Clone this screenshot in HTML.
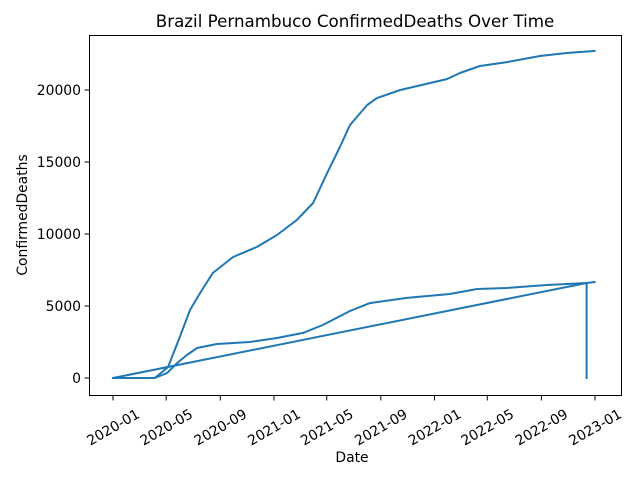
<!DOCTYPE html>
<html><head><meta charset="utf-8"><style>
body{margin:0;background:#fff;}
svg{font-family:"DejaVu Sans","Liberation Sans",sans-serif;}
</style></head><body>
<svg width="640" height="480" xmlns="http://www.w3.org/2000/svg">
<g id="plot"></g>
</svg>
<script>
const upperDates=["2020-01-01","2020-04-05","2020-05-05","2020-06-01","2020-06-24","2020-07-17","2020-08-15","2020-09-30","2020-11-23","2021-01-08","2021-02-22","2021-03-31","2021-05-02","2021-05-31","2021-06-23","2021-08-01","2021-08-23","2021-10-15","2022-01-29","2022-02-28","2022-04-14","2022-06-15","2022-08-29","2022-10-29","2022-12-31"];
const upperValues=[0,0,760,2850,4720,5900,7290,8400,9100,9930,10970,12150,14240,16040,17570,18960,19440,20000,20760,21180,21670,21940,22360,22570,22710];
const lowerDates=["2020-01-01","2020-04-05","2020-05-03","2020-05-26","2020-06-17","2020-07-10","2020-08-24","2020-11-07","2021-01-08","2021-03-08","2021-04-22","2021-06-23","2021-08-07","2021-10-30","2022-02-05","2022-04-08","2022-06-15","2022-09-14","2022-12-13","2022-12-31"];
const lowerValues=[0,0,350,1040,1600,2080,2360,2500,2780,3130,3680,4650,5200,5560,5830,6180,6250,6460,6600,6670];
const straightDates=["2020-01-01","2022-12-13","2022-12-13"];
const straightValues=[0,6600,0];
const xTickLabels=["2020-01","2020-05","2020-09","2021-01","2021-05","2021-09","2022-01","2022-05","2022-09","2023-01"];
const yTickValues=[0,5000,10000,15000,20000];

const NS="http://www.w3.org/2000/svg";
const g=document.getElementById('plot');
const X0=113, t0=Date.UTC(2020,0,1), PXD=482/1096;
function xs(d){const p=d.split('-').map(Number);const t=Date.UTC(p[0],p[1]-1,p[2]||1);return X0+(t-t0)/86400000*PXD;}
function ys(v){return 378-v*0.0144;}
function el(tag,attrs,txt){const e=document.createElementNS(NS,tag);for(const k in attrs)e.setAttribute(k,attrs[k]);if(txt!==undefined)e.textContent=txt;g.appendChild(e);return e;}

function line(ds,vs,name){
  const pts=ds.map((d,i)=>xs(d).toFixed(1)+','+ys(vs[i]).toFixed(1)).join(' ');
  const p=el('polyline',{points:pts,fill:'none',stroke:'#1f77b4','stroke-width':'2','stroke-linejoin':'round','stroke-linecap':'square'});
  
  
}
line(upperDates,upperValues,'series-line-upper');
line(lowerDates,lowerValues,'series-line-lower');
line(straightDates,straightValues,'series-line-connector');

const fr=el('rect',{x:89.5,y:35.5,width:532,height:360,fill:'none',stroke:'#000','stroke-width':'1'});



yTickValues.forEach(v=>{
  const y=ys(v);
  el('line',{x1:89.5,x2:84.5,y1:y,y2:y,stroke:'#000'});
  const t=el('text',{x:81,y:y+5,'text-anchor':'end','font-size':'13.9'},String(v));
  
  
});
xTickLabels.forEach(s=>{
  const x=xs(s+'-01');
  el('line',{x1:x,x2:x,y1:395.5,y2:400.5,stroke:'#000'});
  const t=el('text',{x:x,y:432,'text-anchor':'middle','font-size':'13.9',transform:`rotate(-30 ${x} 427)`},s);
  
  
});
const ti=el('text',{x:355,y:27,'text-anchor':'middle','font-size':'16.7'},'Brazil Pernambuco ConfirmedDeaths Over Time');


const xl=el('text',{x:352,y:462,'text-anchor':'middle','font-size':'13.9'},'Date');


const yl=el('text',{x:27,y:215,'text-anchor':'middle','font-size':'13.9',transform:'rotate(-90 27 215)'},'ConfirmedDeaths');


</script>
</body></html>
